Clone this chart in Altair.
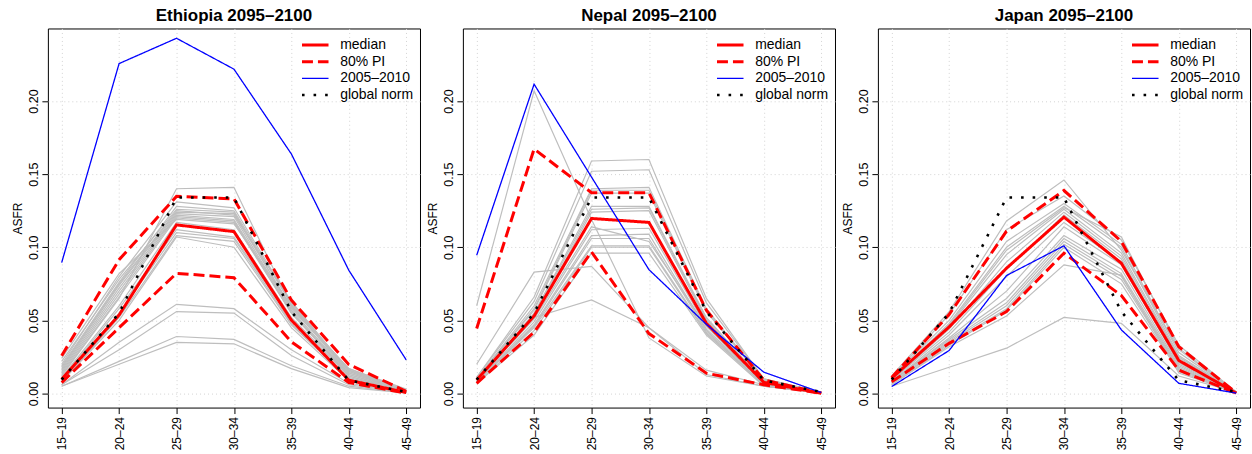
import altair as alt
import pandas as pd

ages = ["15–19", "20–24", "25–29", "30–34", "35–39", "40–44", "45–49"]
series_names = ["median", "80% PI", "2005–2010", "global norm"]
series_colors = ["#FF0000", "#FF0000", "#0000FF", "#000000"]

global_norm = [0.0095, 0.055, 0.134, 0.134, 0.056, 0.009, 0.001]

# Ethiopia
eth_median = [0.0098, 0.0537, 0.1153, 0.1107, 0.0502, 0.0091, 0.0007]
eth_pi_low = [0.0075, 0.0450, 0.0822, 0.0792, 0.0354, 0.0075, 0.0003]
eth_pi_high = [0.0258, 0.0915, 0.1348, 0.1331, 0.0639, 0.0199, 0.0015]
eth_obs = [0.0895, 0.2256, 0.2429, 0.2218, 0.1638, 0.0843, 0.0230]
eth_traj = [
    [0.012, 0.065, 0.140, 0.141, 0.060, 0.014, 0.002],
    [0.020, 0.080, 0.131, 0.127, 0.062, 0.016, 0.002],
    [0.022, 0.078, 0.126, 0.124, 0.058, 0.017, 0.002],
    [0.018, 0.075, 0.125, 0.122, 0.063, 0.015, 0.002],
    [0.016, 0.072, 0.123, 0.121, 0.057, 0.014, 0.002],
    [0.015, 0.070, 0.122, 0.119, 0.056, 0.013, 0.002],
    [0.014, 0.068, 0.121, 0.118, 0.055, 0.013, 0.001],
    [0.013, 0.066, 0.120, 0.117, 0.055, 0.012, 0.001],
    [0.024, 0.082, 0.119, 0.116, 0.060, 0.017, 0.003],
    [0.011, 0.060, 0.117, 0.112, 0.052, 0.012, 0.001],
    [0.010, 0.058, 0.112, 0.107, 0.050, 0.011, 0.001],
    [0.009, 0.055, 0.110, 0.106, 0.048, 0.010, 0.001],
    [0.008, 0.052, 0.108, 0.104, 0.047, 0.010, 0.001],
    [0.008, 0.050, 0.107, 0.100, 0.045, 0.009, 0.001],
    [0.019, 0.076, 0.128, 0.125, 0.061, 0.016, 0.002],
    [0.017, 0.074, 0.124, 0.123, 0.059, 0.015, 0.002],
    [0.006, 0.035, 0.061, 0.058, 0.030, 0.007, 0.001],
    [0.006, 0.030, 0.056, 0.055, 0.026, 0.006, 0.001],
    [0.005, 0.022, 0.039, 0.037, 0.019, 0.005, 0.0005],
    [0.005, 0.020, 0.035, 0.034, 0.017, 0.004, 0.0005],
]

# Nepal
nep_median = [0.0093, 0.0530, 0.1197, 0.1170, 0.0480, 0.0077, 0.0002]
nep_pi_low = [0.0070, 0.0420, 0.0968, 0.0410, 0.0139, 0.0060, 0.0002]
nep_pi_high = [0.0445, 0.1672, 0.1373, 0.1373, 0.0570, 0.0093, 0.0003]
nep_obs = [0.0945, 0.2115, 0.1480, 0.0847, 0.0473, 0.0146, 0.0007]
nep_traj = [
    [0.011, 0.066, 0.159, 0.160, 0.065, 0.010, 0.001],
    [0.011, 0.063, 0.152, 0.153, 0.062, 0.010, 0.001],
    [0.010, 0.060, 0.140, 0.141, 0.058, 0.009, 0.001],
    [0.010, 0.058, 0.139, 0.139, 0.057, 0.009, 0.001],
    [0.010, 0.057, 0.137, 0.137, 0.056, 0.009, 0.001],
    [0.009, 0.055, 0.128, 0.128, 0.052, 0.008, 0.001],
    [0.009, 0.054, 0.126, 0.127, 0.051, 0.008, 0.001],
    [0.009, 0.052, 0.124, 0.125, 0.050, 0.008, 0.001],
    [0.009, 0.051, 0.114, 0.104, 0.046, 0.007, 0.0005],
    [0.008, 0.049, 0.112, 0.113, 0.046, 0.007, 0.0005],
    [0.008, 0.047, 0.108, 0.109, 0.044, 0.007, 0.0005],
    [0.008, 0.046, 0.106, 0.106, 0.043, 0.006, 0.0005],
    [0.008, 0.045, 0.101, 0.101, 0.042, 0.006, 0.0005],
    [0.007, 0.043, 0.100, 0.100, 0.041, 0.006, 0.0005],
    [0.007, 0.040, 0.096, 0.096, 0.040, 0.005, 0.0005],
    [0.060, 0.207, 0.119, 0.038, 0.012, 0.005, 0.0005],
    [0.020, 0.083, 0.087, 0.045, 0.016, 0.006, 0.0005],
    [0.010, 0.052, 0.064, 0.045, 0.013, 0.005, 0.0005],
]

# Japan
jpn_median = [0.0105, 0.0455, 0.0857, 0.1206, 0.0891, 0.0226, 0.0003]
jpn_pi_low = [0.0080, 0.0343, 0.0560, 0.0960, 0.0670, 0.0160, 0.0002]
jpn_pi_high = [0.0110, 0.0540, 0.1110, 0.1388, 0.1040, 0.0320, 0.0005]
jpn_obs = [0.0048, 0.0294, 0.0807, 0.1010, 0.0435, 0.0070, 0.0003]
jpn_traj = [
    [0.012, 0.056, 0.118, 0.146, 0.098, 0.030, 0.001],
    [0.011, 0.054, 0.112, 0.135, 0.105, 0.033, 0.001],
    [0.011, 0.050, 0.104, 0.130, 0.102, 0.028, 0.001],
    [0.010, 0.048, 0.100, 0.128, 0.100, 0.026, 0.001],
    [0.010, 0.046, 0.095, 0.126, 0.096, 0.025, 0.001],
    [0.009, 0.044, 0.090, 0.124, 0.094, 0.024, 0.001],
    [0.009, 0.042, 0.085, 0.122, 0.092, 0.022, 0.001],
    [0.008, 0.040, 0.080, 0.117, 0.090, 0.020, 0.001],
    [0.008, 0.038, 0.070, 0.114, 0.088, 0.021, 0.001],
    [0.008, 0.037, 0.065, 0.108, 0.085, 0.019, 0.001],
    [0.007, 0.036, 0.062, 0.106, 0.082, 0.018, 0.001],
    [0.007, 0.035, 0.060, 0.104, 0.080, 0.017, 0.001],
    [0.007, 0.034, 0.058, 0.102, 0.078, 0.016, 0.001],
    [0.006, 0.033, 0.057, 0.100, 0.075, 0.015, 0.001],
    [0.006, 0.032, 0.053, 0.088, 0.081, 0.014, 0.001],
    [0.005, 0.018, 0.031, 0.052, 0.048, 0.012, 0.001],
    [0.010, 0.047, 0.098, 0.127, 0.107, 0.031, 0.001],
]

FONT = "Liberation Sans"


def panel(name, median, lo, hi, obs, traj):
    rows = []
    for k, tr in enumerate(traj):
        for a, v in zip(ages, tr):
            rows.append({"age": a, "asfr": v, "series": "traj", "lid": f"t{k}"})
    for s, lid, vals in [("median", "m", median), ("80% PI", "lo", lo),
                         ("80% PI", "hi", hi), ("2005–2010", "obs", obs),
                         ("global norm", "gn", global_norm)]:
        for a, v in zip(ages, vals):
            rows.append({"age": a, "asfr": v, "series": s, "lid": lid})
    df = pd.DataFrame(rows)
    base = alt.Chart(df)

    x = alt.X("age:N", sort=ages, title=None,
              scale=alt.Scale(type="point", padding=0.24),
              axis=alt.Axis(labelAngle=270, labelAlign="right", labelBaseline="middle",
                            labelPadding=3, grid=True))
    y = alt.Y("asfr:Q", title="ASFR",
              scale=alt.Scale(domain=[-0.0096, 0.2496], nice=False, zero=False),
              axis=alt.Axis(values=[0, 0.05, 0.1, 0.15, 0.2], format=".2f",
                            labelAngle=270, labelAlign="center", labelBaseline="alphabetic",
                            labelPadding=4.5, labelFontSize=12.5, grid=True,
                            titleAngle=270, titleAlign="center", titleBaseline="alphabetic",
                            titleX=-26.5, titleY=190))
    leg = alt.Legend(title=None, orient="none", legendX=253, legendY=9.6,
                     symbolType="stroke", symbolSize=707, clipHeight=14,
                     rowPadding=2.7, labelOffset=10, labelFontSize=14,
                     labelFont=FONT, labelColor="black", padding=0)
    color = alt.Color("series:N", legend=leg,
                      scale=alt.Scale(domain=series_names, range=series_colors))
    dash = alt.StrokeDash("series:N", legend=leg,
                          scale=alt.Scale(domain=series_names,
                                          range=[[1, 0], [11, 5], [1, 0], [2.6, 9]]))
    sw = alt.StrokeWidth("series:N", legend=leg,
                         scale=alt.Scale(type="ordinal", domain=series_names,
                                         range=[3, 3, 1.3, 2.6]))

    gray = base.transform_filter("datum.series == 'traj'").mark_line(
        color="#BEBEBE", strokeWidth=1.2).encode(x=x, y=y, detail="lid:N")
    layers = [gray]
    for s in ["median", "80% PI", "2005–2010", "global norm"]:
        layers.append(
            base.transform_filter(f"datum.series == '{s}'").mark_line().encode(
                x=x, y=y, color=color, strokeDash=dash, strokeWidth=sw, detail="lid:N"))
    return alt.layer(*layers).properties(
        width=373, height=380,
        title=alt.Title(f"{name} 2095–2100", fontSize=17, fontWeight="bold", font=FONT,
                        anchor="middle", frame="group", offset=3, color="black"))


p1 = panel("Ethiopia", eth_median, eth_pi_low, eth_pi_high, eth_obs, eth_traj)
p2 = panel("Nepal", nep_median, nep_pi_low, nep_pi_high, nep_obs, nep_traj)
p3 = panel("Japan", jpn_median, jpn_pi_low, jpn_pi_high, jpn_obs, jpn_traj)

chart = alt.hconcat(p1, p2, p3, spacing=43, bounds="flush").resolve_scale(
    color="independent", strokeDash="independent", strokeWidth="independent"
).resolve_legend(
    color="independent", strokeDash="independent", strokeWidth="independent"
).properties(
    padding={"left": 11, "top": 6, "right": 1, "bottom": 2},
    background="white"
).configure_view(
    stroke="black", strokeWidth=1
).configure_axis(
    labelFont=FONT, labelFontSize=12, labelColor="black",
    titleFont=FONT, titleFontSize=12, titleFontWeight="normal", titleColor="black",
    tickColor="black", tickSize=6, domain=False,
    gridColor="#D3D3D3", gridDash=[1, 3], gridWidth=1
)

chart.save("out.html", embed_options={"renderer": "svg", "actions": False})
